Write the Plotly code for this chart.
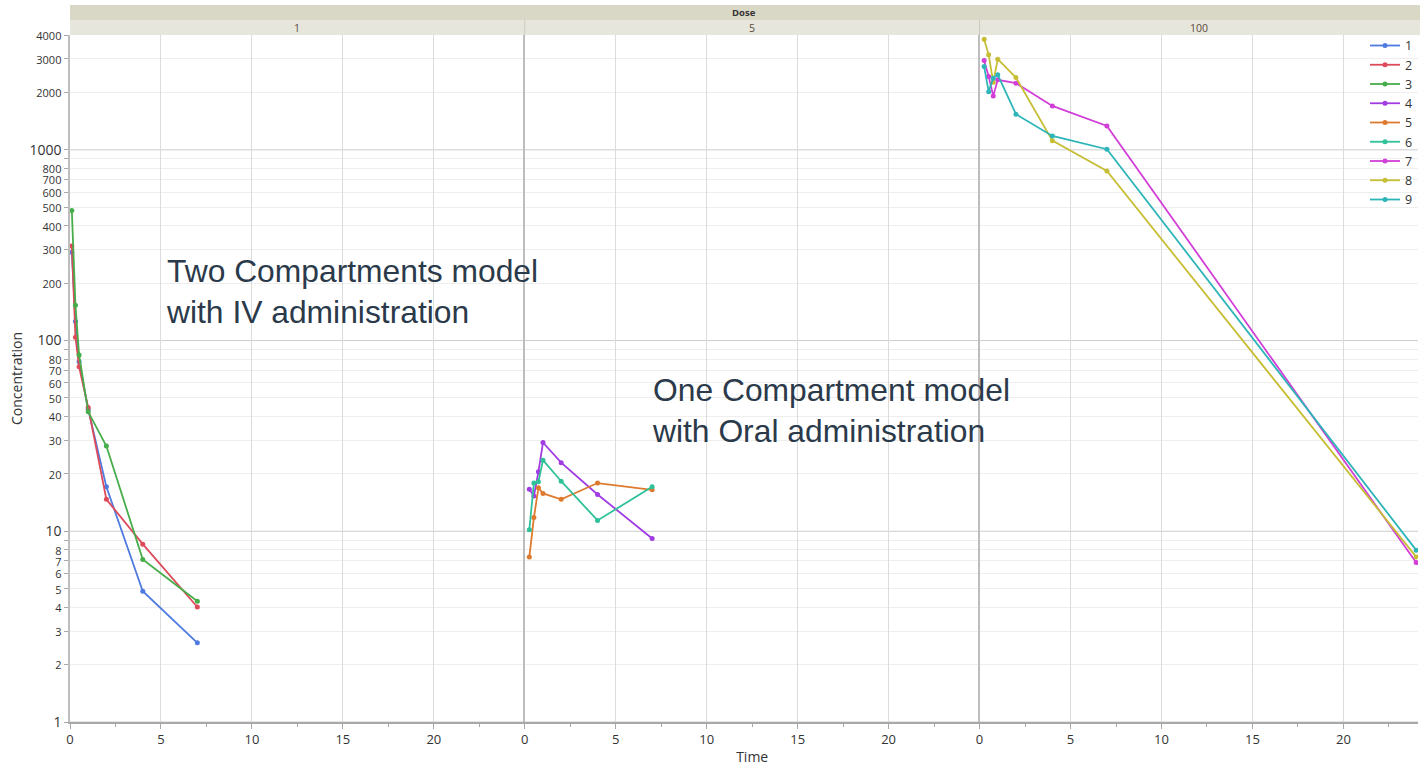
import plotly.graph_objects as go

# ---- data -------------------------------------------------------------
dose_labels = ["1", "5", "100"]
subjects = ["1", "2", "3", "4", "5", "6", "7", "8", "9"]

time_iv = [0.1, 0.3, 0.5, 1, 2, 4, 7]
conc_1 = [290, 126, 77.4, 43.6, 17.1, 4.85, 2.60]
conc_2 = [313, 104, 72.9, 44.6, 14.7, 8.56, 4.01]
conc_3 = [480, 153, 84.0, 42.3, 28.0, 7.11, 4.30]

time_oral = [0.25, 0.5, 0.75, 1, 2, 4, 7]
conc_4 = [16.6, 15.3, 20.5, 29.2, 22.9, 15.6, 9.17]
conc_5 = [7.34, 11.8, 16.9, 15.8, 14.7, 17.9, 16.5]
conc_6 = [10.2, 17.9, 18.2, 23.6, 18.3, 11.4, 17.1]

time_high = [0.25, 0.5, 0.75, 1, 2, 4, 7, 24]
conc_7 = [2937, 2421, 1918, 2327, 2235, 1699, 1334, 6.86]
conc_8 = [3805, 3148, 2264, 2987, 2393, 1117, 774, 7.34]
conc_9 = [2733, 2019, 2376, 2473, 1537, 1183, 1007, 7.96]

colors = ["#4F7BE0", "#DD4A5A", "#47AD4B", "#A03CE2", "#DE7A2E",
          "#2FC29A", "#D13FD8", "#C6BE35", "#2DB5B8"]

major_vals = [1, 10, 100, 1000]
minor_vals = [2, 3, 4, 5, 6, 7, 8, 9, 20, 30, 40, 50, 60, 70, 80, 90,
              200, 300, 400, 500, 600, 700, 800, 900, 2000, 3000, 4000]
minor_text = ["2", "3", "4", "5", "6", "7", "8", "", "20", "30", "40", "50",
              "60", "70", "80", "", "200", "300", "400", "500", "600", "700",
              "800", "", "2000", "3000", "4000"]
x_ticks = [0, 5, 10, 15, 20]

panel_series = [
    ("x", "y", time_iv, [conc_1, conc_2, conc_3]),
    ("x2", "y2", time_oral, [conc_4, conc_5, conc_6]),
    ("x3", "y3", time_high, [conc_7, conc_8, conc_9]),
]

FONT = "Open Sans"
TEXT = "#333333"

fig = go.Figure()
k = 0
for xa, ya, times, series in panel_series:
    for conc in series:
        fig.add_trace(go.Scatter(
            x=times, y=conc, xaxis=xa, yaxis=ya, name=subjects[k],
            mode="lines+markers",
            line=dict(color=colors[k], width=1.8),
            marker=dict(color=colors[k], size=5),
        ))
        k += 1

# y tick labels: decades in larger type, intermediate values smaller
y_vals = sorted(major_vals + minor_vals)
y_text = []
for v in y_vals:
    if v in major_vals:
        y_text.append(str(v))
    else:
        lab = minor_text[minor_vals.index(v)]
        y_text.append(f'<span style="font-size:11px">{lab}</span>' if lab else "")

# ---- axes -------------------------------------------------------------
ranges = [[0, 25], [0, 25], [0, 24.1]]
span = sum(r[1] - r[0] for r in ranges)
edges = [0]
for r in ranges:
    edges.append(edges[-1] + (r[1] - r[0]) / span)

yrange = [0, 3.60206]

for i in range(3):
    suffix = "" if i == 0 else str(i + 1)
    fig.layout["xaxis" + suffix] = dict(
        domain=[edges[i], edges[i + 1]], range=ranges[i], anchor="y" + suffix,
        tickvals=x_ticks, showgrid=True, gridcolor="#dcdcdc", gridwidth=1,
        zeroline=False, showline=True, linecolor="#a8a8a8", linewidth=1.5,
        ticks="outside", ticklen=5, tickcolor="#a8a8a8",
        minor=dict(dtick=2.5, ticks="outside", ticklen=3, tickcolor="#a8a8a8",
                   showgrid=False),
        tickfont=dict(family=FONT, size=13, color=TEXT),
        title=dict(text="Time" if i == 1 else "",
                   font=dict(family=FONT, size=14, color=TEXT), standoff=6),
    )
    fig.layout["yaxis" + suffix] = dict(
        type="log", range=yrange, anchor="x" + suffix,
        tickvals=y_vals, ticktext=y_text,
        showticklabels=(i == 0),
        showgrid=False, zeroline=False,
        showline=True, linecolor="#bdbdbd", linewidth=1.5 if i == 0 else 2,
        ticks="outside" if i == 0 else "", ticklen=4, tickcolor="#a8a8a8",
        minor=dict(tickvals=minor_vals, showgrid=True, gridcolor="#eeeeee",
                   gridwidth=1, ticks=""),
        tickfont=dict(family=FONT, size=14, color=TEXT),
        title=dict(text="Concentration" if i == 0 else "",
                   font=dict(family=FONT, size=14, color=TEXT), standoff=4),
    )
    if i > 0:
        fig.layout["yaxis" + suffix]["matches"] = "y"

# decade grid lines drawn darker than the intermediate ones
shapes = []
for v in major_vals:
    shapes.append(dict(type="line", xref="paper", yref="y", x0=0, x1=1,
                       y0=v, y1=v, line=dict(color="#cdcdcd", width=1),
                       layer="below"))

# ---- header strips ----------------------------------------------------
shapes += [
    dict(type="rect", xref="paper", yref="paper", x0=0, x1=1.0015,
         y0=1.0218, y1=1.0437, fillcolor="#d9d7c6", line=dict(width=0),
         layer="below"),
    dict(type="rect", xref="paper", yref="paper", x0=0, x1=1.0015,
         y0=1.0, y1=1.0218, fillcolor="#e7e6dd", line=dict(width=0),
         layer="below"),
]
for e in edges[1:-1]:
    shapes.append(dict(type="line", xref="paper", yref="paper", x0=e, x1=e,
                       y0=1.0, y1=1.0218, line=dict(color="#cbc9b8", width=1)))

annotations = [
    dict(text="<b>Dose</b>", xref="paper", yref="paper", x=0.5, y=1.0328,
         showarrow=False, font=dict(family=FONT, size=9.5, color=TEXT),
         yanchor="middle"),
]
for i, lab in enumerate(dose_labels):
    suffix = "" if i == 0 else str(i + 1)
    annotations.append(dict(
        text=lab, xref="x" + suffix + " domain", yref="paper", x=0.5,
        y=1.0109, showarrow=False, yanchor="middle",
        font=dict(family=FONT, size=10.5, color="#5a4a3a")))

NOTE = dict(family="Liberation Sans", size=31.8, color="#2B3A4A")
annotations.append(dict(
    text="Two Compartments model<br>with IV administration",
    xref="x", yref="paper", x=5.18, y=0.626, xanchor="left",
    yanchor="middle", align="left", showarrow=False, font=NOTE))
annotations.append(dict(
    text="One Compartment model<br>with Oral administration",
    xref="x2", yref="paper", x=6.9, y=0.454, xanchor="left",
    yanchor="middle", align="left", showarrow=False, font=NOTE))

fig.update_layout(
    width=1420, height=766,
    margin=dict(l=70, r=2, t=35, b=44, autoexpand=False),
    paper_bgcolor="white", plot_bgcolor="white",
    shapes=shapes, annotations=annotations,
    legend=dict(x=1.0, xanchor="right", y=1.006, yanchor="top",
                bgcolor="rgba(0,0,0,0)", font=dict(family=FONT, size=12.5,
                                                   color=TEXT),
                tracegroupgap=0, itemwidth=30),
    font=dict(family=FONT, color=TEXT),
)

fig.write_html("out.html")
